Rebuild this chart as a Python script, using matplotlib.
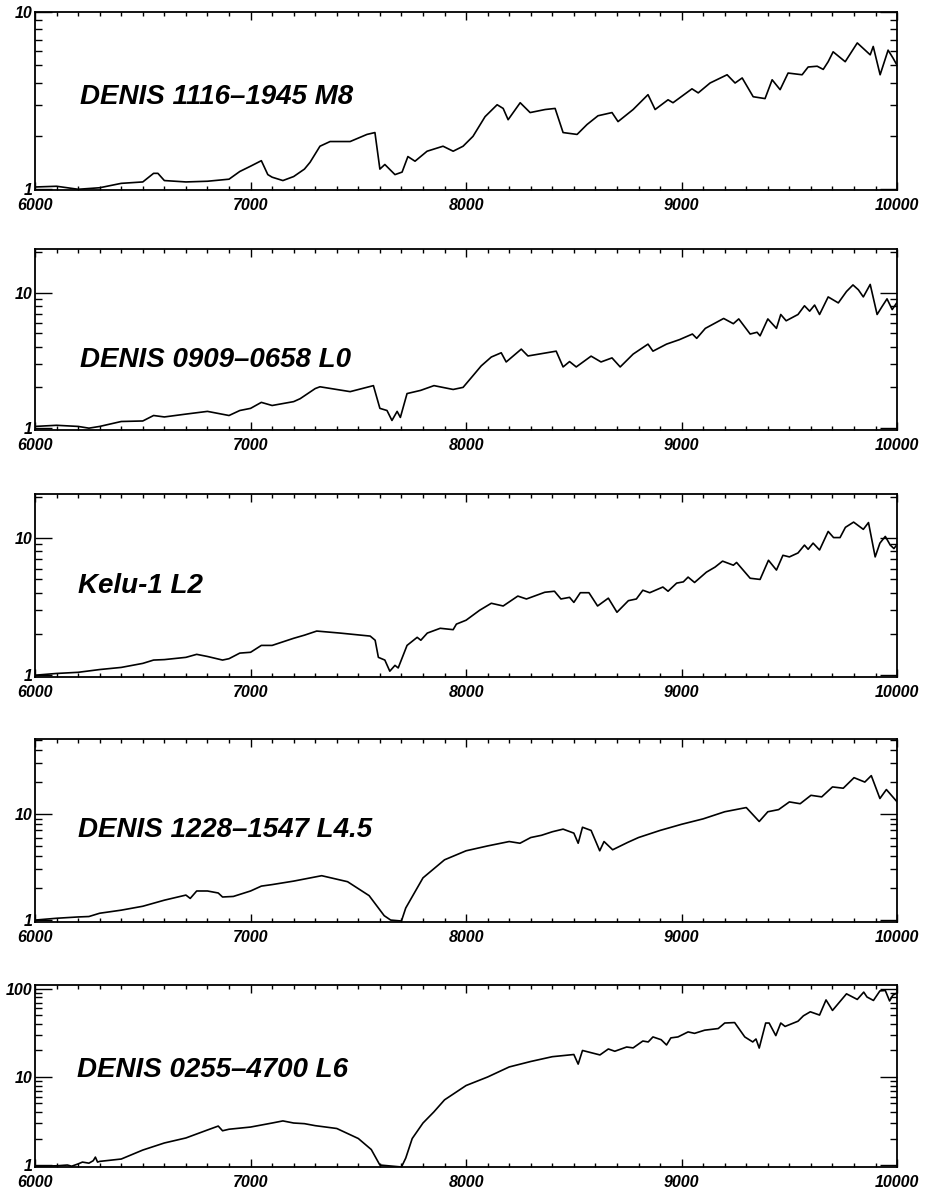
import matplotlib.pyplot as plt
from matplotlib.ticker import FixedLocator, MultipleLocator, FuncFormatter, NullFormatter

plt.rcParams['font.family'] = ['Liberation Sans', 'DejaVu Sans']

# DENIS 1116-1945 M8
wl_m8 = [6000, 6100, 6200, 6300, 6400, 6500, 6550, 6570, 6600, 6700,
         6800, 6900, 6950, 7000, 7050, 7080, 7100, 7150, 7200, 7250,
         7276, 7322, 7369, 7462, 7540, 7577, 7600, 7623, 7670, 7703,
         7730, 7763, 7819, 7893, 7940, 7986, 8032, 8088, 8144, 8172,
         8195, 8251, 8297, 8367, 8413, 8450, 8515, 8561, 8612, 8677,
         8705, 8775, 8844, 8877, 8937, 8960, 9048, 9077, 9132, 9211,
         9248, 9281, 9332, 9387, 9420, 9457, 9494, 9559, 9587, 9629,
         9657, 9680, 9703, 9759, 9815, 9875, 9889, 9921, 9958, 9981,
         10000]
fl_m8 = [1.03, 1.04, 1.00, 1.02, 1.08, 1.10, 1.23, 1.23, 1.12, 1.10,
         1.11, 1.14, 1.26, 1.35, 1.45, 1.21, 1.17, 1.12, 1.18, 1.30,
         1.42, 1.75, 1.86, 1.86, 2.04, 2.09, 1.30, 1.38, 1.21, 1.25,
         1.53, 1.44, 1.64, 1.75, 1.64, 1.75, 1.99, 2.57, 3.00, 2.86,
         2.47, 3.08, 2.71, 2.82, 2.86, 2.09, 2.04, 2.32, 2.60, 2.71,
         2.41, 2.82, 3.42, 2.82, 3.20, 3.08, 3.69, 3.50, 3.98, 4.43,
         3.98, 4.25, 3.33, 3.25, 4.15, 3.65, 4.53, 4.43, 4.90, 4.95,
         4.75, 5.25, 5.97, 5.25, 6.70, 5.74, 6.40, 4.43, 6.10, 5.50,
         5.00]

# DENIS 0909-0658 L0
wl_l0 = [6000, 6100, 6200, 6250, 6300, 6400, 6500, 6550, 6600, 6700,
         6800, 6900, 6950, 7000, 7050, 7100, 7200, 7230, 7300, 7322,
         7462, 7570, 7600, 7633, 7656, 7680, 7695, 7726, 7789, 7851,
         7940, 7986, 8032, 8070, 8117, 8163, 8186, 8256, 8287, 8418,
         8450, 8480, 8511, 8580, 8626, 8677, 8715, 8775, 8844, 8867,
         8930, 8990, 9050, 9070, 9110, 9195, 9240, 9265, 9318, 9350,
         9364, 9400, 9440, 9460, 9485, 9540, 9570, 9594, 9617, 9640,
         9680, 9727, 9765, 9795, 9820, 9843, 9875, 9907, 9930, 9953,
         9977, 10000]
fl_l0 = [1.03, 1.05, 1.03, 1.00, 1.03, 1.12, 1.13, 1.24, 1.21, 1.27,
         1.33, 1.24, 1.35, 1.40, 1.55, 1.47, 1.57, 1.65, 1.96, 2.02,
         1.86, 2.06, 1.40, 1.35, 1.14, 1.33, 1.20, 1.80, 1.90, 2.06,
         1.93, 2.00, 2.44, 2.88, 3.35, 3.60, 3.08, 3.83, 3.41, 3.70,
         2.83, 3.10, 2.83, 3.40, 3.08, 3.30, 2.83, 3.52, 4.17, 3.70,
         4.17, 4.50, 4.95, 4.60, 5.45, 6.45, 5.90, 6.40, 4.95, 5.10,
         4.80, 6.40, 5.45, 6.90, 6.20, 6.90, 8.00, 7.30, 8.10, 6.90,
         9.30, 8.40, 10.2, 11.4, 10.5, 9.30, 11.5, 6.90, 7.90, 9.00,
         7.50, 8.50]

# Kelu-1 L2
wl_l2 = [6000, 6100, 6200, 6300, 6400, 6500, 6550, 6600, 6700, 6750,
         6800, 6870, 6900, 6950, 7000, 7050, 7100, 7200, 7250, 7307,
         7415, 7555, 7578, 7593, 7623, 7646, 7670, 7685, 7726, 7773,
         7790, 7820, 7880, 7940, 7955, 8000, 8063, 8117, 8172, 8240,
         8280, 8365, 8410, 8440, 8480, 8500, 8530, 8570, 8610, 8660,
         8700, 8753, 8790, 8820, 8852, 8913, 8937, 8977, 9008, 9030,
         9060, 9115, 9155, 9190, 9240, 9255, 9318, 9364, 9403, 9440,
         9470, 9500, 9540, 9570, 9587, 9610, 9640, 9680, 9705, 9735,
         9760, 9798, 9843, 9867, 9898, 9920, 9945, 9968, 9985, 10000]
fl_l2 = [1.00, 1.03, 1.05, 1.10, 1.14, 1.22, 1.29, 1.30, 1.35, 1.42,
         1.37, 1.29, 1.32, 1.45, 1.47, 1.65, 1.65, 1.86, 1.96, 2.10,
         2.03, 1.93, 1.80, 1.35, 1.29, 1.07, 1.18, 1.13, 1.65, 1.89,
         1.80, 2.03, 2.20, 2.15, 2.36, 2.52, 2.98, 3.35, 3.20, 3.78,
         3.60, 4.03, 4.10, 3.60, 3.70, 3.40, 4.00, 4.00, 3.20, 3.65,
         2.88, 3.50, 3.60, 4.17, 4.00, 4.40, 4.10, 4.70, 4.80, 5.20,
         4.75, 5.65, 6.15, 6.80, 6.35, 6.65, 5.10, 5.00, 6.90, 5.85,
         7.50, 7.30, 7.80, 8.90, 8.30, 9.20, 8.20, 11.2, 10.1, 10.1,
         12.0, 13.1, 11.6, 13.0, 7.30, 9.20, 10.3, 8.90, 8.40, 9.00]

# DENIS 1228-1547 L4.5
wl_l45 = [6000, 6100, 6200, 6250, 6300, 6400, 6500, 6600, 6700, 6720,
          6750, 6800, 6850, 6870, 6920, 7000, 7050, 7100, 7200, 7300,
          7330, 7450, 7550, 7620, 7650, 7700, 7720, 7800, 7900, 8000,
          8100, 8200, 8250, 8300, 8350, 8400, 8450, 8500, 8520, 8540,
          8580, 8620, 8640, 8680, 8750, 8800, 8900, 9000, 9100, 9200,
          9300, 9360, 9400, 9450, 9500, 9550, 9600, 9650, 9700, 9750,
          9800, 9850, 9880, 9920, 9950, 10000]
fl_l45 = [1.00, 1.04, 1.07, 1.08, 1.16, 1.24, 1.35, 1.54, 1.72, 1.60,
          1.88, 1.88, 1.80, 1.65, 1.67, 1.88, 2.09, 2.16, 2.33, 2.55,
          2.62, 2.30, 1.70, 1.10, 1.00, 0.98, 1.30, 2.50, 3.70, 4.50,
          5.00, 5.50, 5.30, 6.00, 6.30, 6.80, 7.20, 6.60, 5.30, 7.50,
          7.00, 4.50, 5.50, 4.60, 5.40, 6.00, 7.00, 8.00, 9.00, 10.5,
          11.5, 8.50, 10.5, 11.0, 13.0, 12.5, 15.0, 14.5, 18.0, 17.5,
          22.0, 20.0, 23.0, 14.0, 17.0, 13.0]

# DENIS 0255-4700 L6
wl_l6 = [6000, 6100, 6150, 6170, 6200, 6220, 6250, 6270, 6280, 6290,
         6300, 6400, 6500, 6600, 6700, 6800, 6850, 6870, 6900, 7000,
         7100, 7150, 7200, 7250, 7300, 7400, 7500, 7560, 7600, 7700,
         7720, 7750, 7800, 7850, 7900, 8000, 8100, 8200, 8300, 8400,
         8500, 8520, 8540, 8621, 8660, 8690, 8745, 8775, 8820, 8845,
         8867, 8905, 8930, 8950, 8983, 9030, 9060, 9107, 9170, 9200,
         9246, 9293, 9330, 9345, 9360, 9390, 9406, 9437, 9460, 9480,
         9540, 9565, 9597, 9640, 9670, 9700, 9765, 9815, 9845, 9860,
         9890, 9920, 9945, 9965, 9980, 10000]
fl_l6 = [0.97, 0.98, 1.00, 0.97, 1.03, 1.08, 1.05, 1.12, 1.23, 1.08,
         1.10, 1.17, 1.48, 1.78, 2.03, 2.50, 2.77, 2.45, 2.55, 2.70,
         3.00, 3.17, 3.00, 2.95, 2.80, 2.60, 2.00, 1.50, 1.00, 0.95,
         1.20, 2.00, 3.00, 4.00, 5.50, 8.00, 10.0, 13.0, 15.0, 17.0,
         18.0, 14.0, 20.0, 17.8, 20.8, 19.6, 21.9, 21.4, 25.6, 25.0,
         28.5, 26.5, 23.1, 27.8, 28.5, 32.5, 31.3, 34.0, 35.5, 41.0,
         41.5, 28.5, 25.0, 27.0, 21.3, 41.0, 41.0, 29.5, 41.0, 37.5,
         43.0, 49.5, 55.0, 50.5, 75.0, 57.0, 88.0, 76.0, 92.0, 81.0,
         74.0, 95.0, 96.0, 73.0, 85.0, 90.0]

names = ['DENIS 1116–1945 M8', 'DENIS 0909–0658 L0', 'Kelu-1 L2',
         'DENIS 1228–1547 L4.5', 'DENIS 0255–4700 L6']
spectra = [(wl_m8, fl_m8), (wl_l0, fl_l0), (wl_l2, fl_l2),
           (wl_l45, fl_l45), (wl_l6, fl_l6)]
ylims = [(0.99, 10.01), (0.97, 21), (0.97, 21), (0.96, 51), (0.95, 111)]
# axes boxes [left, bottom, width, height] in figure fractions
boxes = [[0.0378, 0.8407, 0.930, 0.1492],
         [0.0378, 0.6396, 0.930, 0.1517],
         [0.0378, 0.4325, 0.930, 0.1534],
         [0.0378, 0.2272, 0.930, 0.1534],
         [0.0378, 0.0218, 0.930, 0.1526]]
name_pos = [(0.052, 0.483), (0.052, 0.348), (0.050, 0.459),
            (0.050, 0.464), (0.049, 0.495)]

fig = plt.figure(figsize=(9.27, 11.93), dpi=100)

for box, (wl, fl), lim, name, pos in zip(boxes, spectra, ylims, names, name_pos):
    ax = fig.add_axes(box)
    ax.plot(wl, fl, color='black', lw=1.2)
    ax.set_yscale('log')
    ax.set_xlim(6000, 10000)
    ax.set_ylim(*lim)

    ax.xaxis.set_major_locator(MultipleLocator(1000))
    ax.xaxis.set_minor_locator(MultipleLocator(100))
    majors = [v for v in (1, 10, 100) if lim[0] <= v <= lim[1]]
    minors = [m * d for d in (1, 10, 100) for m in range(2, 10)
              if lim[0] <= m * d <= lim[1]]
    ax.yaxis.set_major_locator(FixedLocator(majors))
    ax.yaxis.set_minor_locator(FixedLocator(minors))
    ax.yaxis.set_major_formatter(FuncFormatter(lambda v, p: '%d' % round(v)))
    ax.yaxis.set_minor_formatter(NullFormatter())

    ax.tick_params(which='both', direction='in', top=True, right=True,
                   width=1.0, color='black')
    ax.tick_params(axis='x', which='major', length=6, pad=6)
    ax.tick_params(axis='x', which='minor', length=3)
    ax.tick_params(axis='y', which='major', length=12, pad=2)
    ax.tick_params(axis='y', which='minor', length=5)
    for lab in ax.get_xticklabels() + ax.get_yticklabels():
        lab.set_fontsize(11.5)
        lab.set_fontweight('bold')
        lab.set_fontstyle('italic')
    for sp in ax.spines.values():
        sp.set_linewidth(1.3)

    ax.text(pos[0], pos[1], name, transform=ax.transAxes, ha='left',
            va='baseline', fontsize=20, fontweight='bold', fontstyle='italic')

fig.savefig('out.png', dpi=100)
